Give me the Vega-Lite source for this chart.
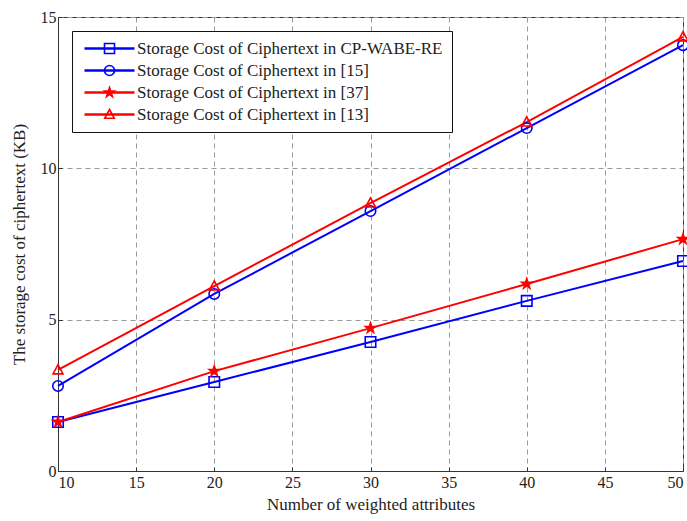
{
  "$schema": "https://vega.github.io/schema/vega-lite/v6.json",
  "width": 625,
  "height": 454,
  "autosize": "none",
  "padding": {"left": 58, "top": 17, "right": 4, "bottom": 50},
  "background": "white",
  "config": {
    "font": "Liberation Serif",
    "view": {"stroke": "#333", "strokeWidth": 1},
    "axis": {
      "labelFont": "Liberation Serif",
      "titleFont": "Liberation Serif",
      "labelFontSize": 16,
      "titleFontSize": 17,
      "titleFontWeight": "normal",
      "labelColor": "#222",
      "titleColor": "#222",
      "domainColor": "#333",
      "tickColor": "#333",
      "gridColor": "#999",
      "gridDash": [5, 4],
      "gridWidth": 1,
      "tickSize": -4
    },
    "legend": {"labelFont": "Liberation Serif"}
  },
  "data": {
    "values": [
      {"x": 10, "v": 1.62, "s": "Storage Cost of Ciphertext in CP-WABE-RE"},
      {"x": 20, "v": 2.94, "s": "Storage Cost of Ciphertext in CP-WABE-RE"},
      {"x": 30, "v": 4.26, "s": "Storage Cost of Ciphertext in CP-WABE-RE"},
      {"x": 40, "v": 5.62, "s": "Storage Cost of Ciphertext in CP-WABE-RE"},
      {"x": 50, "v": 6.94, "s": "Storage Cost of Ciphertext in CP-WABE-RE"},
      {"x": 10, "v": 2.81, "s": "Storage Cost of Ciphertext in [15]"},
      {"x": 20, "v": 5.85, "s": "Storage Cost of Ciphertext in [15]"},
      {"x": 30, "v": 8.59, "s": "Storage Cost of Ciphertext in [15]"},
      {"x": 40, "v": 11.33, "s": "Storage Cost of Ciphertext in [15]"},
      {"x": 50, "v": 14.07, "s": "Storage Cost of Ciphertext in [15]"},
      {"x": 10, "v": 1.62, "s": "Storage Cost of Ciphertext in [37]"},
      {"x": 20, "v": 3.3, "s": "Storage Cost of Ciphertext in [37]"},
      {"x": 30, "v": 4.72, "s": "Storage Cost of Ciphertext in [37]"},
      {"x": 40, "v": 6.18, "s": "Storage Cost of Ciphertext in [37]"},
      {"x": 50, "v": 7.66, "s": "Storage Cost of Ciphertext in [37]"},
      {"x": 10, "v": 3.34, "s": "Storage Cost of Ciphertext in [13]"},
      {"x": 20, "v": 6.11, "s": "Storage Cost of Ciphertext in [13]"},
      {"x": 30, "v": 8.85, "s": "Storage Cost of Ciphertext in [13]"},
      {"x": 40, "v": 11.53, "s": "Storage Cost of Ciphertext in [13]"},
      {"x": 50, "v": 14.34, "s": "Storage Cost of Ciphertext in [13]"}
    ]
  },
  "encoding": {
    "x": {
      "field": "x", "type": "quantitative",
      "scale": {"domain": [10, 50], "nice": false, "zero": false},
      "axis": {"values": [10, 15, 20, 25, 30, 35, 40, 45, 50], "title": "Number of weighted attributes", "titlePadding": 6, "labelPadding": 7}
    },
    "y": {
      "field": "v", "type": "quantitative",
      "scale": {"domain": [0, 15], "nice": false},
      "axis": {"values": [0, 5, 10, 15], "title": "The storage cost of ciphertext (KB)", "titlePadding": 12, "labelPadding": 6}
    }
  },
  "layer": [
    {
      "mark": {"type": "line", "strokeWidth": 2},
      "encoding": {
        "color": {
          "field": "s", "type": "nominal",
          "sort": ["Storage Cost of Ciphertext in CP-WABE-RE", "Storage Cost of Ciphertext in [15]", "Storage Cost of Ciphertext in [37]", "Storage Cost of Ciphertext in [13]"],
          "scale": {"range": ["#0000ff", "#0000ff", "#ff0000", "#ff0000"]},
          "legend": {
            "title": null,
            "orient": "none",
            "legendX": 14,
            "legendY": 14,
            "symbolType": "M-5,0H5",
            "symbolSize": 100,
            "symbolOffset": 20,
            "symbolStrokeWidth": 2.5,
            "labelFontSize": 17,
            "labelColor": "#222",
            "labelOffset": 19,
            "labelLimit": 400,
            "rowPadding": 4,
            "padding": 9,
            "strokeColor": "#111",
            "fillColor": "white"
          }
        }
      }
    },
    {
      "transform": [{"calculate": "datum.s", "as": "m"}],
      "mark": {"type": "point", "strokeWidth": 1.6, "opacity": 1},
      "encoding": {
        "shape": {
          "field": "m", "type": "nominal",
          "scale": {
            "domain": ["Storage Cost of Ciphertext in CP-WABE-RE", "Storage Cost of Ciphertext in [15]", "Storage Cost of Ciphertext in [37]", "Storage Cost of Ciphertext in [13]"],
            "range": ["square", "circle", "M0,-1L0.2245,-0.309L0.9511,-0.309L0.3633,0.118L0.5878,0.809L0,0.382L-0.5878,0.809L-0.3633,0.118L-0.9511,-0.309L-0.2245,-0.309Z", "M0,-1L0.95,0.75L-0.95,0.75Z"]
          },
          "legend": {
            "title": null,
            "orient": "none",
            "legendX": 14,
            "legendY": 14,
            "symbolOffset": 20,
            "labelFontSize": 17,
            "labelColor": "transparent",
            "labelOffset": 19,
            "labelLimit": 400,
            "rowPadding": 4,
            "padding": 9,
            "symbolSize": 100,
            "symbolStrokeWidth": 1.6
          }
        },
        "stroke": {
          "field": "m", "type": "nominal",
          "scale": {
            "domain": ["Storage Cost of Ciphertext in CP-WABE-RE", "Storage Cost of Ciphertext in [15]", "Storage Cost of Ciphertext in [37]", "Storage Cost of Ciphertext in [13]"],
            "range": ["#0000ff", "#0000ff", "#ff0000", "#ff0000"]
          }
        },
        "fill": {
          "field": "m", "type": "nominal",
          "scale": {
            "domain": ["Storage Cost of Ciphertext in CP-WABE-RE", "Storage Cost of Ciphertext in [15]", "Storage Cost of Ciphertext in [37]", "Storage Cost of Ciphertext in [13]"],
            "range": ["transparent", "transparent", "#ff0000", "transparent"]
          }
        },
        "size": {"value": 110}
      }
    }
  ]
}
